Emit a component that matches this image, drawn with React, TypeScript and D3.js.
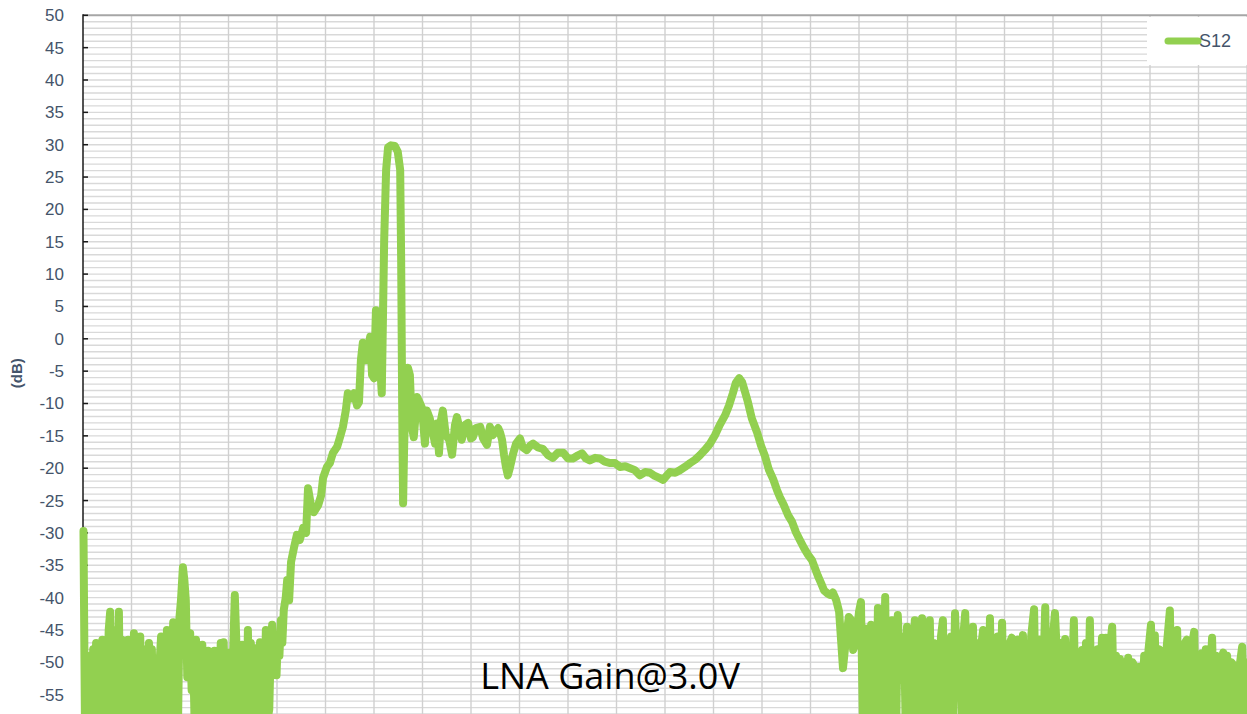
import React from 'react';
import * as d3 from 'd3';

const W = 1247;
const H = 714;

// y-axis tick labels (dB)
const yTickValues = [50, 45, 40, 35, 30, 25, 20, 15, 10, 5, 0, -5, -10, -15, -20, -25, -30, -35, -40, -45, -50, -55];
const seriesName = 'S12';
const chartTitle = 'LNA Gain@3.0V';
const yAxisTitle = '(dB)';

// S12 trace: [frequency (grid divisions), dB]
const lowNoise: [number, number][] = [
  [0.01, -29.7], [0.02, -40], [0.04, -59], [0.08, -49], [0.11, -59], [0.14, -50], [0.17, -59], [0.21, -48],
  [0.24, -59], [0.27, -47], [0.30, -59], [0.33, -48], [0.36, -59], [0.40, -46.5], [0.43, -58], [0.46, -47],
  [0.49, -59], [0.53, -45], [0.56, -42.2], [0.59, -59], [0.62, -47], [0.65, -59], [0.68, -45], [0.71, -55],
  [0.74, -42.2], [0.77, -59], [0.80, -46.5], [0.83, -59], [0.86, -47], [0.89, -59], [0.93, -46.5], [0.96, -59],
  [0.99, -48], [1.02, -59], [1.05, -45.5], [1.08, -59], [1.11, -47], [1.14, -59], [1.18, -46], [1.21, -59],
  [1.24, -48], [1.27, -59], [1.30, -49], [1.33, -59], [1.36, -47], [1.39, -59], [1.42, -48], [1.45, -59],
  [1.49, -50], [1.52, -59], [1.55, -54.7], [1.58, -50], [1.61, -46], [1.64, -59], [1.67, -46.5], [1.70, -59],
  [1.73, -45], [1.76, -59], [1.79, -47], [1.82, -54.3], [1.86, -43.8], [1.89, -59], [1.93, -44.2], [1.96, -59],
  [1.99, -43], [2.02, -40.4], [2.06, -35.3], [2.09, -37.3], [2.12, -40.4], [2.15, -52.3], [2.18, -47], [2.21, -45.5],
  [2.24, -54.3], [2.27, -48], [2.30, -59], [2.33, -46.5], [2.36, -59], [2.39, -48], [2.42, -59], [2.46, -47.3],
  [2.49, -59], [2.52, -49], [2.55, -59], [2.58, -48.2], [2.61, -59], [2.64, -50], [2.67, -59], [2.71, -48.2],
  [2.74, -59], [2.77, -49], [2.80, -59], [2.84, -47], [2.87, -59], [2.90, -46.9], [2.93, -54.3], [2.96, -49],
  [2.99, -59], [3.03, -48.5], [3.06, -59], [3.09, -50], [3.13, -39.6], [3.16, -46.5], [3.19, -59], [3.22, -48],
  [3.25, -59], [3.28, -47.3], [3.31, -59], [3.34, -48], [3.37, -59], [3.40, -45], [3.43, -59], [3.46, -47],
  [3.49, -54.3], [3.53, -47.8], [3.56, -59], [3.59, -49], [3.62, -59], [3.65, -46.9], [3.68, -59], [3.71, -49.6],
  [3.74, -59], [3.77, -45], [3.80, -59], [3.84, -57.3], [3.87, -48], [3.90, -44.2], [3.93, -50], [3.96, -46.5],
  [3.99, -52], [4.02, -45.8], [4.05, -49], [4.08, -43.5], [4.11, -47], [4.14, -41.9], [4.18, -40], [4.21, -37.3],
  [4.25, -40.4], [4.29, -34.5], [4.35, -32.3], [4.41, -30.3],
];

const mainBand: [number, number][] = [
  [4.47, -31.1], [4.54, -29.2], [4.60, -30], [4.64, -23.1], [4.70, -25.7], [4.76, -26.8], [4.85, -25.7], [4.91, -24.2],
  [4.95, -21.5], [5.03, -19.8], [5.09, -19.2], [5.15, -17.7], [5.24, -16.7], [5.30, -15.2], [5.36, -13.6], [5.42, -11],
  [5.46, -8.4], [5.53, -9.2], [5.59, -8.4], [5.65, -10.3], [5.69, -9.8], [5.73, -3.3], [5.77, -0.6], [5.84, -3.3],
  [5.88, -1.4], [5.92, 0.3], [5.96, -5.6], [6.00, -6.1], [6.04, 4.4], [6.08, 2.1], [6.12, -3.3], [6.16, -8.4],
  [6.21, 15.3], [6.25, 26.1], [6.29, 29.6], [6.35, 29.9], [6.43, 29.8], [6.49, 28.9], [6.54, 26.1], [6.56, 12.2],
  [6.58, -9.5], [6.60, -25.4], [6.62, -17.2], [6.66, -5.6], [6.70, -4.5], [6.74, -5.6], [6.78, -13.6], [6.82, -15.2],
  [6.89, -9], [6.95, -10], [6.99, -10.7], [7.05, -16.2], [7.09, -11.1], [7.15, -12.3], [7.20, -14.1], [7.26, -16.2],
  [7.30, -13.1], [7.34, -17.7], [7.38, -12.6], [7.42, -11.1], [7.48, -14.9], [7.55, -15.6], [7.61, -17.9], [7.67, -13.3],
  [7.71, -12.1], [7.77, -14.1], [7.81, -15.6], [7.88, -13.3], [7.94, -13], [8.00, -15.4], [8.04, -15.2], [8.10, -13.8],
  [8.19, -13.6], [8.25, -15.4], [8.33, -16.4], [8.39, -13.6], [8.45, -14.9], [8.49, -14.5], [8.56, -13.8], [8.60, -14.5],
  [8.64, -15.6], [8.68, -17.9], [8.72, -19.8], [8.76, -21.1], [8.80, -20], [8.87, -17.7], [8.93, -16.2], [9.01, -15.4],
  [9.07, -16.8], [9.15, -17.2], [9.22, -16.5], [9.28, -16.2], [9.38, -16.8], [9.48, -17], [9.59, -18], [9.69, -18.4],
  [9.79, -17.6], [9.90, -17.6], [10.00, -18.5], [10.10, -18.5], [10.21, -18], [10.29, -17.7], [10.37, -18.5], [10.45, -18.8],
  [10.56, -18.4], [10.66, -18.5], [10.76, -19], [10.87, -19.2], [10.97, -19.2], [11.07, -19.8], [11.18, -19.7], [11.28, -20],
  [11.38, -20.3], [11.48, -21.1], [11.59, -20.6], [11.69, -20.7], [11.79, -21.2], [11.88, -21.5], [11.96, -21.8], [12.04, -21.1],
  [12.10, -20.6], [12.21, -20.7], [12.31, -20.3], [12.41, -19.8], [12.52, -19.2], [12.62, -18.7], [12.72, -18], [12.82, -17.2],
  [12.93, -16.2], [13.03, -14.9], [13.13, -13.3], [13.24, -11.8], [13.32, -10.3], [13.40, -8.4], [13.46, -6.8], [13.53, -6.1],
  [13.59, -6.7], [13.65, -8.2], [13.71, -9.8], [13.79, -12.3], [13.90, -14.5], [13.98, -16.5], [14.06, -18.1], [14.14, -20.2],
  [14.23, -21.7], [14.31, -23.4], [14.37, -24.5], [14.45, -25.7], [14.54, -27.3], [14.62, -28.3], [14.70, -29.9], [14.78, -31.1],
  [14.87, -32.4], [14.95, -33.4], [15.03, -34.2], [15.09, -35.4], [15.15, -36.6], [15.22, -37.8], [15.28, -38.9], [15.34, -39.3],
  [15.40, -39.6], [15.46, -39.2], [15.53, -40.4], [15.59, -42.2], [15.63, -46.5], [15.67, -50.9], [15.73, -46.5], [15.79, -43],
  [15.84, -43.5], [15.88, -48.1], [15.94, -46.5], [16.00, -42.2], [16.04, -40.7],
];

const highNoise: [number, number][] = [
  [16.08, -59], [16.12, -46], [16.14, -44.8], [16.17, -59], [16.21, -47], [16.25, -44.2], [16.28, -59], [16.32, -48],
  [16.36, -59], [16.39, -41.6], [16.42, -59], [16.46, -47], [16.50, -59], [16.54, -39.9], [16.57, -59], [16.61, -46],
  [16.64, -59], [16.68, -43.5], [16.71, -59], [16.74, -46], [16.77, -59], [16.80, -42.7], [16.84, -50], [16.89, -52.7],
  [16.93, -46], [16.96, -59], [16.99, -44.5], [17.03, -59], [17.07, -47], [17.11, -59], [17.15, -43.5], [17.18, -59],
  [17.22, -45], [17.26, -59], [17.30, -43.2], [17.33, -59], [17.37, -46], [17.41, -59], [17.46, -43.5], [17.50, -59],
  [17.54, -47], [17.58, -59], [17.61, -50], [17.65, -59], [17.69, -46], [17.73, -43.5], [17.77, -59], [17.81, -47],
  [17.85, -59], [17.90, -46], [17.94, -59], [17.98, -42.4], [18.02, -50], [18.05, -55.4], [18.09, -47], [18.12, -59],
  [18.15, -46], [18.19, -42.4], [18.23, -59], [18.27, -48], [18.31, -59], [18.35, -44.5], [18.39, -59], [18.43, -47],
  [18.47, -59], [18.51, -48], [18.56, -45], [18.60, -59], [18.64, -47], [18.67, -59], [18.70, -43.2], [18.74, -59],
  [18.78, -48], [18.82, -59], [18.86, -46], [18.90, -59], [18.95, -43.9], [18.99, -59], [19.03, -48], [19.07, -59],
  [19.11, -47], [19.15, -46.2], [19.19, -59], [19.24, -48], [19.28, -46.5], [19.32, -59], [19.38, -45.8], [19.42, -59],
  [19.46, -48], [19.50, -59], [19.55, -46], [19.61, -41.8], [19.65, -59], [19.69, -48], [19.73, -46.5], [19.77, -59],
  [19.84, -41.5], [19.88, -59], [19.92, -47], [19.96, -59], [20.00, -46], [20.04, -42.4], [20.08, -48.6], [20.12, -59],
  [20.16, -47], [20.20, -59], [20.25, -46.4], [20.29, -59], [20.33, -48], [20.37, -59], [20.43, -43.5], [20.47, -59],
  [20.52, -52.7], [20.56, -50], [20.60, -48.1], [20.64, -59], [20.68, -47], [20.72, -59], [20.76, -43.5], [20.80, -59],
  [20.84, -49.6], [20.88, -59], [20.92, -48], [20.96, -59], [21.01, -46.2], [21.05, -59], [21.09, -46.2], [21.13, -59],
  [21.17, -48], [21.22, -44.5], [21.26, -59], [21.30, -49], [21.34, -59], [21.38, -49.5], [21.42, -59], [21.46, -50],
  [21.50, -59], [21.55, -49.3], [21.59, -59], [21.64, -50], [21.69, -50.7], [21.73, -59], [21.79, -50.7], [21.83, -59],
  [21.88, -49], [21.92, -59], [21.97, -48], [22.02, -44.2], [22.06, -59], [22.10, -45.8], [22.14, -59], [22.19, -48],
  [22.25, -49.2], [22.29, -59], [22.34, -48], [22.41, -42], [22.45, -59], [22.50, -47], [22.56, -45], [22.60, -59],
  [22.64, -48], [22.68, -59], [22.72, -47], [22.76, -46.5], [22.80, -59], [22.85, -48], [22.91, -45.3], [22.95, -59],
  [22.99, -49], [23.03, -59], [23.07, -48.6], [23.11, -59], [23.15, -48], [23.20, -59], [23.28, -46.2], [23.32, -59],
  [23.36, -49], [23.40, -59], [23.45, -50], [23.51, -48.5], [23.55, -59], [23.59, -49], [23.63, -59], [23.68, -50],
  [23.75, -50.7], [23.79, -59], [23.84, -51], [23.90, -47.6], [23.94, -59], [23.98, -50],
];

const s12 = [...lowNoise, ...mainBand, ...highNoise];

const LEFT = 83;
const RIGHT = 1247;
const TOP = 15.3;
const BOTTOM = 727;

export default function App() {
  const x = d3.scaleLinear().domain([0, 24]).range([LEFT, RIGHT]);
  const y = d3.scaleLinear().domain([-60, 50]).range([BOTTOM, TOP]);
  const line = d3
    .line<[number, number]>()
    .x((d) => x(d[0]))
    .y((d) => y(d[1]));

  const hGrid = d3.range(-60, 50, 1);
  const vGrid = d3.range(1, 25, 1);
  const labelColor = '#44546A';
  const green = '#92D050';

  return (
    <svg
      width={W}
      height={H}
      style={{ position: 'absolute', left: 0, top: 0, background: '#fff' }}
    >
      <rect x={0} y={0} width={W} height={H} fill="#fff" />
      {hGrid.map((v) => (
        <line key={'h' + v} x1={LEFT} x2={RIGHT} y1={y(v)} y2={y(v)} stroke="#d9d9d9" strokeWidth={1.4} />
      ))}
      {vGrid.map((v) => (
        <line key={'v' + v} x1={x(v)} x2={x(v)} y1={TOP} y2={BOTTOM} stroke="#d0d0d0" strokeWidth={1.4} />
      ))}
      <line x1={LEFT} x2={RIGHT} y1={y(50)} y2={y(50)} stroke="#a6a6a6" strokeWidth={2} />
      <line x1={LEFT} x2={LEFT} y1={TOP - 1} y2={BOTTOM} stroke="#1a1a1a" strokeWidth={1.5} />
      {yTickValues.map((v) => (
        <line key={'t' + v} x1={LEFT} x2={LEFT + 5} y1={y(v)} y2={y(v)} stroke="#1a1a1a" strokeWidth={1.5} />
      ))}
      {yTickValues.map((v) => (
        <text
          key={'l' + v}
          x={64}
          y={y(v)}
          dy="0.35em"
          textAnchor="end"
          fontFamily="'Liberation Sans', Arial, sans-serif"
          fontSize={17}
          fill={labelColor}
        >
          {v}
        </text>
      ))}
      <text
        transform={`translate(22,${y(-5) + 2}) rotate(-90)`}
        textAnchor="middle"
        fontFamily="'Liberation Sans', Arial, sans-serif"
        fontSize={15}
        fontWeight={600}
        fill={labelColor}
      >
        {yAxisTitle}
      </text>
      <path
        d={line(s12) || ''}
        fill="none"
        stroke={green}
        strokeWidth={8}
        strokeLinejoin="round"
        strokeLinecap="round"
      />
      <rect x={1147} y={17} width={100} height={48} fill="#fff" />
      <line x1={1168} x2={1198} y1={41} y2={41} stroke={green} strokeWidth={7} strokeLinecap="round" />
      <text
        x={1199}
        y={41}
        dy="0.35em"
        fontFamily="'Liberation Sans', Arial, sans-serif"
        fontSize={18}
        fill={labelColor}
      >
        {seriesName}
      </text>
      <text
        x={610}
        y={689}
        textAnchor="middle"
        fontFamily="'Open Sans', 'Noto Sans', sans-serif"
        fontSize={36}
        fill="#000"
      >
        {chartTitle}
      </text>
    </svg>
  );
}
